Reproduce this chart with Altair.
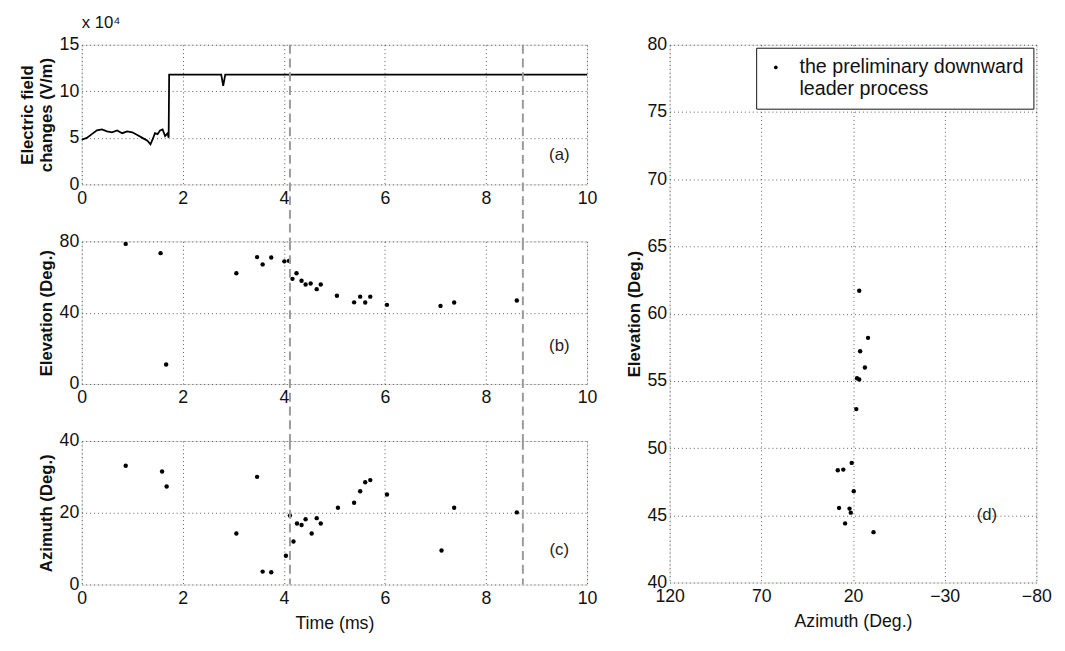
import altair as alt
import pandas as pd

# ---------------- data ----------------
# (a) electric field change (x 10^4 V/m) versus time (ms)
field_t = [0.0, 0.1, 0.2, 0.3, 0.4, 0.5, 0.6, 0.7, 0.8, 0.9, 1.0, 1.1, 1.2, 1.3,
           1.36, 1.4, 1.45, 1.5, 1.55, 1.6, 1.65, 1.7, 1.72, 1.73, 2.76, 2.80, 2.84, 10.0]
field_e = [4.8, 5.0, 5.4, 5.8, 5.9, 5.7, 5.6, 5.8, 5.5, 5.7, 5.6, 5.3, 5.0, 4.7,
           4.3, 4.8, 5.5, 5.4, 5.8, 5.9, 5.2, 5.5, 5.0, 11.8, 11.8, 10.6, 11.8, 11.8]

# (b) elevation (deg.) versus time (ms)
elev_t = [0.87, 1.56, 1.67, 3.06, 3.47, 3.58, 3.75, 4.01, 4.10, 4.17, 4.25, 4.35,
          4.43, 4.53, 4.65, 4.73, 5.05, 5.39, 5.51, 5.61, 5.71, 6.04, 7.10, 7.37, 8.61]
elev_v = [78.6, 73.4, 10.9, 62.1, 71.2, 67.1, 71.0, 68.8, 69.1, 59.0, 62.1, 57.9,
          55.8, 56.4, 53.2, 55.8, 49.5, 45.8, 49.0, 45.7, 49.0, 44.4, 43.8, 45.7, 46.8]

# (c) azimuth (deg.) versus time (ms)
azim_t = [0.87, 1.59, 1.68, 3.47, 3.06, 3.58, 3.75, 4.04, 4.12, 4.19, 4.26, 4.35,
          4.43, 4.55, 4.65, 4.73, 5.07, 5.39, 5.51, 5.61, 5.71, 6.04, 7.12, 7.37, 8.61]
azim_v = [33.1, 31.5, 27.3, 30.0, 14.2, 3.6, 3.4, 8.0, 19.2, 12.0, 17.0, 16.6,
          18.2, 14.2, 18.5, 17.0, 21.4, 22.8, 26.0, 28.5, 29.1, 25.1, 9.5, 21.4, 20.1]

# (d) elevation versus azimuth
d_az = [16.6, 11.8, 16.1, 13.5, 17.8, 16.6, 18.2, 20.7, 25.3, 28.3, 19.6,
        27.6, 21.9, 21.2, 24.3, 8.8]
d_el = [61.7, 58.2, 57.2, 56.0, 55.2, 55.1, 52.9, 48.9, 48.4, 48.35, 46.8,
        45.55, 45.5, 45.2, 44.4, 43.75]

marker_times = [4.12, 8.73]
series_name = "the preliminary downward leader process"

panel_tags = ["(a)", "(b)", "(c)", "(d)"]
tag_x = [9.45, 9.45, 9.45, -53]
tag_y = [3.2, 21.0, 9.7, 45.0]

# ---------------- styles ----------------
SANS = "Liberation Sans, Arial, sans-serif"
W = 514
HA, HB, HC = 142, 145, 146
SP = 58
WD, HD = 373, 547

grid_style = dict(grid=True, gridColor="#333", gridDash=[1, 3], gridWidth=1,
                  gridOpacity=0.8, ticks=False, domain=False,
                  labelFont=SANS, labelFontSize=18, labelColor="#111",
                  labelFlush=False, labelOverlap=False,
                  titleColor="#111")


def time_axis(title=None):
    kw = dict(grid_style)
    if title:
        return alt.Axis(values=[0, 2, 4, 6, 8, 10], title=title, titleFont=SANS,
                        titleFontSize=18, titleFontWeight="normal", titlePadding=8,
                        labelPadding=5, **kw)
    return alt.Axis(values=[0, 2, 4, 6, 8, 10], title=None, labelPadding=5, **kw)


def val_axis(values, title):
    return alt.Axis(values=values, title=title, titleFont=SANS, titleFontSize=17,
                    titleFontWeight="bold", titlePadding=4, labelPadding=3, **grid_style)


tscale = alt.Scale(domain=[0, 10], nice=False, zero=False)

df_a = pd.DataFrame({"t": field_t, "e": field_e, "i": range(len(field_t))})
df_b = pd.DataFrame({"t": elev_t, "v": elev_v})
df_c = pd.DataFrame({"t": azim_t, "v": azim_v})
df_d = pd.DataFrame({"az": d_az, "el": d_el, "series": series_name})
df_m = pd.DataFrame({"t": marker_times})
df_tag = pd.DataFrame({"tag": panel_tags, "x": tag_x, "y": tag_y})


def markers(h):
    return alt.Chart(df_m).mark_rule(color="#9a9a9a", strokeDash=[9, 5], strokeWidth=2).encode(
        x=alt.X("t:Q", scale=tscale), y=alt.value(0), y2=alt.value(h))


def tag(i, xscale, yscale):
    return alt.Chart(df_tag.iloc[[i]]).mark_text(font=SANS, fontSize=17, color="#222").encode(
        x=alt.X("x:Q", scale=xscale), y=alt.Y("y:Q", scale=yscale), text="tag:N")


# panel (a)
ya = alt.Scale(domain=[0, 15], nice=False)
line_a = alt.Chart(df_a).mark_line(color="black", strokeWidth=1.8).encode(
    x=alt.X("t:Q", scale=tscale, axis=time_axis()),
    y=alt.Y("e:Q", scale=ya, axis=val_axis([0, 5, 10, 15], ["Electric field", "changes (V/m)"])),
    order="i:Q")
panel_a = alt.layer(line_a, markers(HA + SP), tag(0, tscale, ya)).properties(
    width=W, height=HA,
    title=alt.TitleParams("x 10\u2074", anchor="start", frame="group", font=SANS, fontSize=17,
                          fontWeight="normal", color="#111", offset=4))

# panel (b)
yb = alt.Scale(domain=[0, 80], nice=False)
pts_b = alt.Chart(df_b).mark_point(filled=True, size=20, color="black", opacity=1).encode(
    x=alt.X("t:Q", scale=tscale, axis=time_axis()),
    y=alt.Y("v:Q", scale=yb, axis=val_axis([0, 40, 80], "Elevation (Deg.)")))
panel_b = alt.layer(pts_b, markers(HB + SP), tag(1, tscale, yb)).properties(width=W, height=HB)

# panel (c)
yc = alt.Scale(domain=[0, 40], nice=False)
pts_c = alt.Chart(df_c).mark_point(filled=True, size=20, color="black", opacity=1).encode(
    x=alt.X("t:Q", scale=tscale, axis=time_axis("Time (ms)")),
    y=alt.Y("v:Q", scale=yc, axis=val_axis([0, 20, 40], "Azimuth (Deg.)")))
panel_c = alt.layer(pts_c, markers(HC), tag(2, tscale, yc)).properties(width=W, height=HC)

# panel (d)
xd = alt.Scale(domain=[-80, 120], reverse=True, nice=False)
yd = alt.Scale(domain=[40, 80], nice=False)
pts_d = alt.Chart(df_d).mark_point(filled=True, size=20, opacity=1).encode(
    x=alt.X("az:Q", scale=xd,
            axis=alt.Axis(values=[120, 70, 20, -30, -80], title="Azimuth (Deg.)", titleFont=SANS,
                          titleFontSize=18, titleFontWeight="normal", titlePadding=8,
                          labelPadding=5, **grid_style)),
    y=alt.Y("el:Q", scale=yd, axis=val_axis([40, 45, 50, 55, 60, 65, 70, 75, 80], "Elevation (Deg.)")),
    color=alt.Color("series:N", scale=alt.Scale(range=["black"]),
                    legend=alt.Legend(title=None, orient="top-right", offset=3, padding=10,
                                      strokeColor="#111", fillColor="white",
                                      labelFont=SANS, labelFontSize=20, labelColor="#111",
                                      labelLimit=500, labelOffset=14,
                                      labelExpr="['the preliminary downward', 'leader process']",
                                      symbolType="circle", symbolSize=14, symbolStrokeWidth=0)))
panel_d = alt.layer(pts_d, tag(3, xd, yd)).properties(width=WD, height=HD)

left = alt.vconcat(panel_a, panel_b, panel_c, spacing=SP, bounds="flush")
chart = alt.hconcat(left, panel_d, spacing=27).resolve_legend(color="independent").properties(
    padding={"left": 10, "top": 0, "right": 5, "bottom": 0}
).configure_view(stroke="#111", strokeWidth=1.3).configure(background="white")

chart.save("out.html", embed_options={"renderer": "svg", "actions": False})
